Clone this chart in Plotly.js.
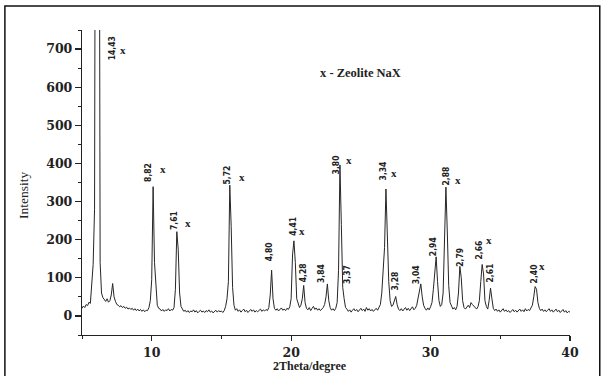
<!DOCTYPE html>
<html>
<head>
<meta charset="utf-8">
<script src="https://cdn.plot.ly/plotly-3.0.1.min.js"></script>
<style>
html,body{margin:0;padding:0;background:#fff;}
#chart{width:603px;height:376px;}
</style>
</head>
<body>
<div id="chart"></div>
<script>
// ---- Data ----
// Intensity sampled every 0.1 degree 2-theta, from 5.0 to 40.0
var thetaStart = 5.0;
var thetaStep = 0.1;
var intensity = [
  20, 26, 22, 30, 27, 36, 33, 85, 135, 280,          // 5.0-5.9
  2000, 2000, 2000, 140, 60, 48, 42, 38, 45, 36,     // 6.0-6.9
  40, 55, 85, 50, 38, 30, 28, 24, 27, 22,            // 7.0-7.9
  25, 20, 23, 18, 21, 17, 20, 15, 19, 14,            // 8.0-8.9
  18, 13, 17, 12, 16, 11, 15, 14, 22, 40,            // 9.0-9.9
  95, 339, 140, 65, 28, 20, 18, 13, 17, 12,          // 10.0-10.9
  16, 14, 19, 13, 17, 15, 22, 70, 221, 175,          // 11.0-11.9
  60, 25, 18, 12, 15, 10, 14, 9, 13, 11,             // 12.0-12.9
  16, 10, 14, 8, 12, 15, 10, 13, 9, 14,              // 13.0-13.9
  11, 16, 10, 13, 8, 12, 15, 10, 14, 11,             // 14.0-14.9
  13, 9, 14, 25, 45, 90, 343, 234, 75, 28,           // 15.0-15.9
  15, 19, 12, 16, 10, 14, 18, 11, 15, 9,             // 16.0-16.9
  13, 17, 12, 16, 10, 14, 11, 15, 18, 12,            // 17.0-17.9
  16, 13, 17, 14, 22, 55, 120, 45, 20, 15,           // 18.0-18.9
  19, 13, 17, 21, 15, 18, 14, 20, 17, 24,            // 19.0-19.9
  45, 160, 197, 140, 45, 30, 22, 28, 45, 80,         // 20.0-20.9
  35, 20, 16, 22, 14, 20, 25, 17, 21, 15,            // 21.0-21.9
  19, 14, 18, 22, 30, 50, 84, 40, 22, 15,            // 22.0-22.9
  19, 14, 20, 35, 120, 396, 240, 75, 45, 22,         // 23.0-23.9
  18, 12, 16, 10, 15, 19, 13, 17, 11, 16,            // 24.0-24.9
  20, 14, 18, 12, 22, 15, 19, 13, 17, 12,            // 25.0-25.9
  16, 20, 15, 22, 30, 60, 110, 180, 333, 200,        // 26.0-26.9
  90, 40, 25, 28, 40, 51, 30, 18, 14, 19,            // 27.0-27.9
  13, 17, 22, 15, 20, 14, 18, 24, 16, 20,            // 28.0-28.9
  27, 45, 60, 84, 50, 28, 20, 15, 21, 16,            // 29.0-29.9
  24, 35, 70, 120, 155, 90, 40, 25, 30, 60,          // 30.0-30.9
  180, 338, 220, 80, 35, 25, 18, 22, 16, 25,         // 31.0-31.9
  60, 130, 100, 40, 22, 18, 23, 28, 22, 35,          // 32.0-32.9
  30, 26, 20, 18, 24, 40, 90, 135, 110, 40,          // 33.0-33.9
  25, 18, 40, 73, 45, 20, 14, 18, 12, 16,            // 34.0-34.9
  10, 15, 19, 12, 16, 11, 14, 9, 13, 17,             // 35.0-35.9
  11, 15, 10, 14, 18, 12, 16, 11, 19, 13,            // 36.0-36.9
  17, 14, 20, 28, 50, 77, 70, 35, 20, 14,            // 37.0-37.9
  18, 12, 16, 11, 15, 19, 12, 16, 10, 14,            // 38.0-38.9
  18, 11, 15, 9, 13, 17, 10, 14, 8, 12,              // 39.0-39.9
  10                                                 // 40.0
];

// Labelled reflections: d-spacing labels, their 2-theta and peak intensity
var peakLabels  = ["14,43","8,82","7,61","5,72","4,80","4,41","4,28","3,84","3,80","3,37","3,34","3,28","3,04","2,94","2,88","2,79","2,66","2,61","2,40"];
var peakTheta   = [6.12, 10.11, 11.84, 15.6, 18.56, 20.2, 20.88, 22.62, 23.5, 23.7, 26.85, 27.45, 29.3, 30.44, 31.1, 32.14, 33.74, 34.34, 37.55];
var peakTop     = [701, 339, 221, 343, 120, 197, 80, 84, 396, 75, 333, 51, 84, 155, 338, 130, 135, 73, 77];
var zeoliteX    = [true, true, true, true, false, true, false, false, true, false, true, false, false, false, true, false, true, false, true];

var legendText = "x - Zeolite NaX";
var xTitle = "2Theta/degree";
var yTitle = "Intensity";

// ---- Layout-side placement of the peak labels (pixel nudges) ----
var labelNudge = [
  [14, 0], [-6, 14], [-4, 11], [-2.5, 10], [-2, 18], [-1, 15], [0.5, 13], [-6.5, 10],
  [-3, 0.5], [5, 13], [-2.7, 18.5], [0, 15], [-4, 9.5], [-3.4, 10], [0, 11.5], [0, 9],
  [-3.7, 14], [-2, 14.6], [-2, 13]
];
var xNudge = {
  0: [11.5, -1.5], 1: [15.4, 3.5], 2: [14.4, -2.5], 3: [14.4, -1.5], 5: [9, -5],
  8: [12.3, 4.5], 10: [10, -3], 14: [11.6, -4.5], 16: [10, 10.5], 18: [7.7, 7.8]
};

var ink = '#222';
var trace = {
  type: 'scatter',
  mode: 'lines',
  x0: thetaStart,
  dx: thetaStep,
  y: intensity,
  line: {color: '#262626', width: 1},
  hoverinfo: 'skip'
};

var labelFont = {family: 'Liberation Sans Narrow, DejaVu Sans Condensed, Arial Narrow, sans-serif', size: 8.5, color: ink, weight: 'bold'};
var xFont = {family: 'Liberation Serif, Times New Roman, serif', size: 11, color: ink, weight: 'bold'};

var annotations = [];
for (var i = 0; i < peakLabels.length; i++) {
  var dxp = labelNudge[i][0], dyp = labelNudge[i][1];
  annotations.push({
    x: peakTheta[i], y: peakTop[i], xref: 'x', yref: 'y',
    text: peakLabels[i], showarrow: false, textangle: -90,
    xanchor: 'center', yanchor: 'middle',
    xshift: dxp, yshift: dyp, font: labelFont
  });
  if (zeoliteX[i]) {
    var xn = xNudge[i];
    annotations.push({
      x: peakTheta[i], y: peakTop[i], xref: 'x', yref: 'y',
      text: 'x', showarrow: false,
      xanchor: 'center', yanchor: 'middle',
      xshift: dxp + xn[0], yshift: dyp + xn[1], font: xFont
    });
  }
}
annotations.push({
  xref: 'paper', yref: 'paper', x: 0.570, y: 0.859,
  text: legendText, showarrow: false, xanchor: 'center', yanchor: 'middle',
  font: {family: 'Liberation Serif, Times New Roman, serif', size: 12.5, color: ink, weight: 'bold'}
});
annotations.push({
  xref: 'paper', yref: 'paper', x: -0.121, y: 0.459,
  text: yTitle, showarrow: false, textangle: -90, xanchor: 'center', yanchor: 'middle',
  font: {family: 'Liberation Serif, Times New Roman, serif', size: 13.5, color: ink}
});
annotations.push({
  xref: 'paper', yref: 'paper', x: 0.467, y: -0.103,
  text: xTitle, showarrow: false, xanchor: 'center', yanchor: 'middle',
  font: {family: 'Liberation Serif, Times New Roman, serif', size: 12, color: ink, weight: 'bold'}
});

var tickFont = {family: 'DejaVu Serif, serif', size: 12.5, color: ink, weight: 'bold'};

var layout = {
  width: 603, height: 376,
  margin: {l: 82, r: 33, t: 30, b: 41, pad: 0},
  paper_bgcolor: '#fff', plot_bgcolor: '#fff',
  showlegend: false,
  xaxis: {
    range: [5, 40], tick0: 0, dtick: 10,
    showline: true, linecolor: ink, linewidth: 1.2,
    ticks: 'outside', ticklen: 5, tickwidth: 1.2, tickcolor: ink,
    showgrid: false, zeroline: false, tickfont: tickFont, ticklabelstandoff: 1,
    minor: {tick0: 0, dtick: 5, ticks: 'outside', ticklen: 3, tickwidth: 1, tickcolor: ink, showgrid: false}
  },
  yaxis: {
    range: [-50, 750], tick0: 0, dtick: 100,
    showline: true, linecolor: ink, linewidth: 1.2,
    ticks: 'outside', ticklen: 6, tickwidth: 1.2, tickcolor: ink,
    showgrid: false, zeroline: false, tickfont: tickFont,
    minor: {tick0: 0, dtick: 50, ticks: 'outside', ticklen: 3, tickwidth: 1, tickcolor: ink, showgrid: false}
  },
  annotations: annotations,
  shapes: [{
    type: 'rect', xref: 'paper', yref: 'paper',
    x0: -0.158, x1: 1.061, y0: -0.16, y1: 1.079,
    line: {color: '#111', width: 1.5}, fillcolor: 'rgba(0,0,0,0)'
  }]
};

Plotly.newPlot('chart', [trace], layout, {staticPlot: true, displayModeBar: false});
</script>
</body>
</html>
